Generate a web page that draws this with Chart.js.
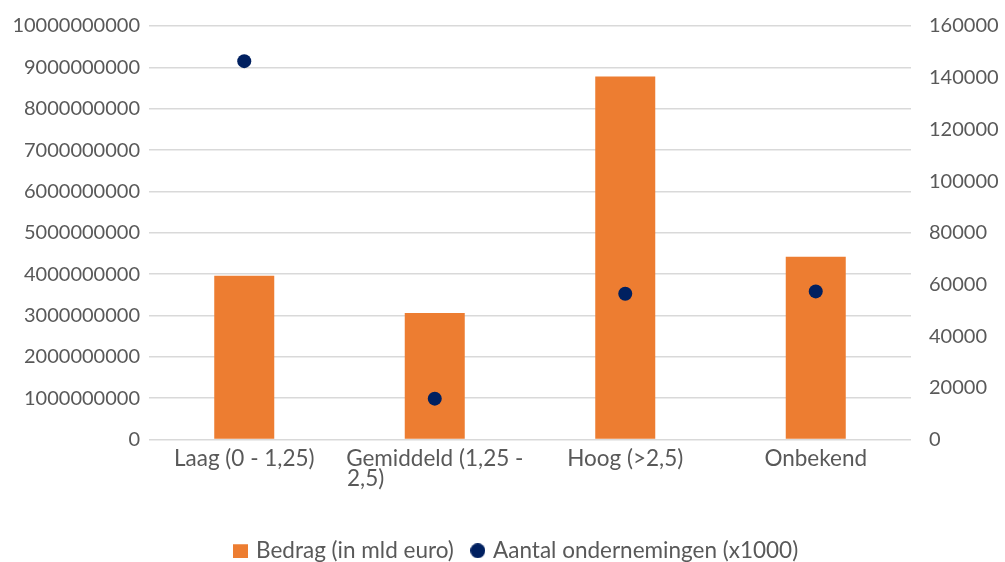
<!DOCTYPE html>
<html>
<head>
<meta charset="utf-8">
<script src="https://cdn.jsdelivr.net/npm/chart.js@4.4.1/dist/chart.umd.min.js"></script>
<style>
  html, body { margin: 0; padding: 0; background: #ffffff; }
  #wrap { width: 1005px; height: 562px; position: relative; }
</style>
</head>
<body>
<div id="wrap"><canvas id="c" width="1005" height="562"></canvas></div>
<script>
const categories = ['Laag (0 - 1,25)', ['Gemiddeld (1,25 -', '2,5)'], 'Hoog (>2,5)', 'Onbekend'];
const bedrag = [3960000000, 3060000000, 8780000000, 4420000000];
const aantal = [146400, 15800, 56400, 57300];
const leftTicks = [0, 1000000000, 2000000000, 3000000000, 4000000000, 5000000000, 6000000000, 7000000000, 8000000000, 9000000000, 10000000000];
const rightTicks = [0, 20000, 40000, 60000, 80000, 100000, 120000, 140000, 160000];

const textColor = '#595959';
const gridColor = '#d9d9d9';
const barColor = '#ED7D31';
const dotColor = '#002060';
const numFont = { family: 'Lato', size: 20 };
const textFont = { family: 'Lato', size: 22.5, lineHeight: 0.9 };

// small legend markers: a filled square and a filled dot, 15px each
function marker(kind, color) {
  const cv = document.createElement('canvas');
  cv.width = 15; cv.height = 15;
  const g = cv.getContext('2d');
  g.fillStyle = color;
  if (kind === 'rect') {
    g.fillRect(0, 1, 15, 14);
  } else {
    g.beginPath();
    g.arc(7.5, 7.5, 7.5, 0, Math.PI * 2);
    g.fill();
  }
  return cv;
}
const rectMarker = marker('rect', barColor);
const dotMarker = marker('dot', dotColor);

// wrapped category labels read left-aligned: pad the shorter lines with
// trailing spaces so every line is as wide as the widest one
const measureCtx = document.createElement('canvas').getContext('2d');
measureCtx.font = textFont.size + 'px ' + textFont.family;
function leftAlignLines(label) {
  if (!Array.isArray(label)) return label;
  const widest = Math.max(...label.map(l => measureCtx.measureText(l).width));
  return label.map(l => {
    let s = l;
    while (measureCtx.measureText(s + ' ').width <= widest + 1) s += ' ';
    return s;
  });
}

// value axes: no extra room above/below for the end labels, the layout padding handles it
function trimPadding(s) {
  s.paddingTop = 0;
  s.paddingBottom = 0;
}

new Chart(document.getElementById('c'), {
  data: {
    labels: categories,
    datasets: [
      {
        type: 'bar',
        label: 'Bedrag (in mld euro)',
        data: bedrag,
        backgroundColor: barColor,
        borderWidth: 0,
        yAxisID: 'y',
        order: 1,
        barPercentage: 0.63,
        categoryPercentage: 0.5
      },
      {
        type: 'line',
        label: 'Aantal ondernemingen (x1000)',
        data: aantal,
        showLine: false,
        backgroundColor: dotColor,
        borderColor: dotColor,
        pointRadius: 7,
        pointHoverRadius: 7,
        pointBorderWidth: 0,
        pointStyle: 'circle',
        yAxisID: 'y1',
        order: 0
      }
    ]
  },
  options: {
    responsive: false,
    animation: false,
    layout: { padding: { top: 26, left: 0, right: 0, bottom: -10 } },
    plugins: {
      tooltip: { enabled: false },
      legend: {
        position: 'bottom',
        labels: {
          color: textColor,
          font: { family: 'Lato', size: 22.5 },
          usePointStyle: true,
          boxWidth: 8,
          boxHeight: 8,
          padding: 20,
          sort: (a, b) => a.datasetIndex - b.datasetIndex,
          generateLabels(chart) {
            const items = Chart.defaults.plugins.legend.labels.generateLabels(chart);
            items.forEach(it => { it.pointStyle = it.datasetIndex === 0 ? rectMarker : dotMarker; });
            return items;
          }
        }
      }
    },
    scales: {
      x: {
        grid: { display: false, drawTicks: false },
        border: { display: false },
        ticks: {
          color: textColor, font: textFont, maxRotation: 0, autoSkip: false, padding: 9,
          callback: (v, i) => leftAlignLines(categories[i])
        },
        afterFit: s => { s.height = 80; }
      },
      y: {
        position: 'left',
        min: 0,
        max: 10000000000,
        afterBuildTicks: s => { s.ticks = leftTicks.map(v => ({ value: v })); },
        grid: { color: gridColor, lineWidth: 1.5, drawTicks: false },
        border: { display: false },
        ticks: { color: textColor, font: numFont, padding: 9, callback: v => String(v) },
        afterFit: s => { s.width = 149; trimPadding(s); }
      },
      y1: {
        position: 'right',
        min: 0,
        max: 160000,
        afterBuildTicks: s => { s.ticks = rightTicks.map(v => ({ value: v })); },
        grid: { display: false, drawTicks: false },
        border: { display: false },
        ticks: { color: textColor, font: numFont, padding: 18, callback: v => String(v) },
        afterFit: s => { s.width = 94; trimPadding(s); }
      }
    }
  },
  plugins: [{
    id: 'legendOffset',
    // the legend row sits centred under the plot area rather than the canvas
    afterLayout(chart) {
      const lg = chart.legend;
      if (lg) { lg.left += 15; lg.right += 15; }
    }
  }]
});
</script>
</body>
</html>
